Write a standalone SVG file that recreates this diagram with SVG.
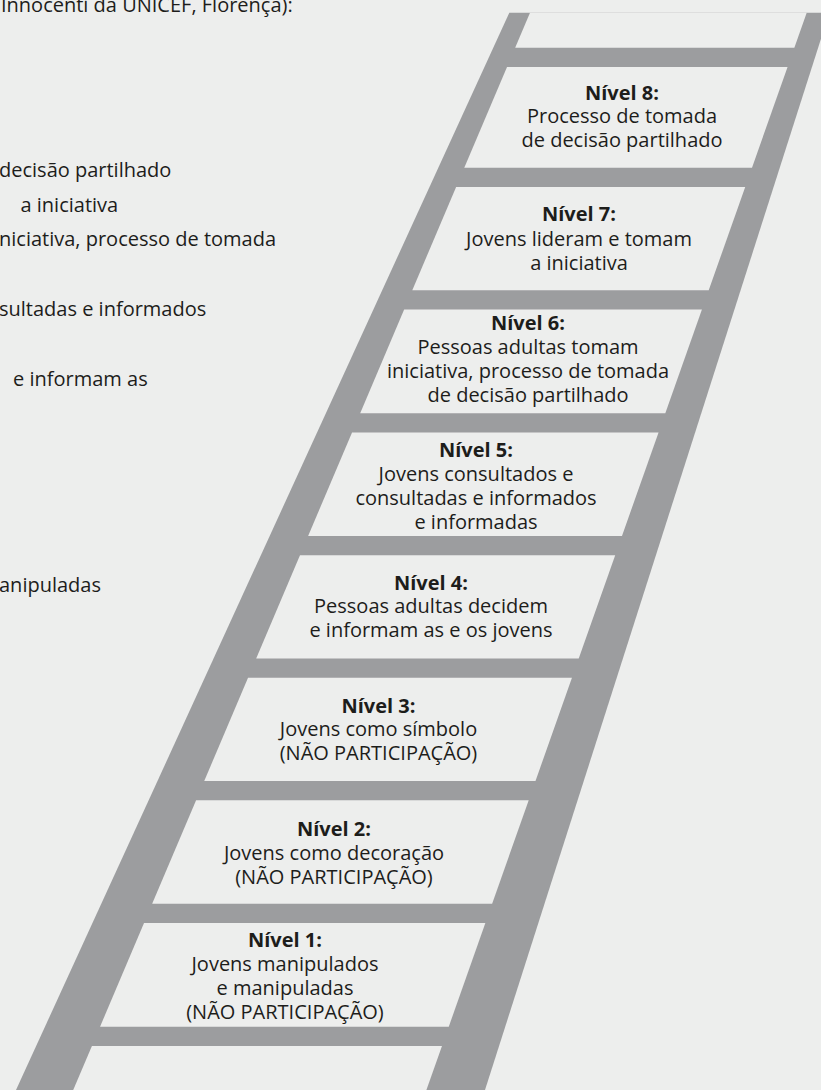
<svg xmlns="http://www.w3.org/2000/svg" width="821" height="1090" viewBox="0 0 821 1090">
<style>
.bg{fill:#edeeed}
.rail{fill:#9c9d9f}
.cell{fill:#edeeed}
text{font-family:"Open Sans","Noto Sans","DejaVu Sans",sans-serif;font-size:20px;fill:#1d1d1b}
.c text{text-anchor:middle}
.b{font-weight:bold}
</style>
<rect class="bg" x="0" y="0" width="821" height="1090"/>
<g id="side-text">
<text x="1" y="12">Innocenti da UNICEF, Florença):</text>
<text x="-1" y="176.7">decisão partilhado</text>
<text x="20.5" y="211.5">a iniciativa</text>
<text x="-1" y="246.3">niciativa, processo de tomada</text>
<text x="-1" y="316">sultadas e informados</text>
<text x="13" y="385.5">e informam as</text>
<text x="-1" y="592.3">anipuladas</text>
</g>
<g id="ladder">
<polygon class="rail" points="509.3,12.7 829.3,12.7 485,1090 16,1090"/>
<polygon class="cell" points="530,12.7 806.7,12.7 794.35,47.7 515.16,47.7"/>
<polygon class="cell" points="91.92,1045.9 441.98,1045.9 426.41,1090 73.23,1090"/>
</g>
<g id="nivel8" class="c">
<polygon class="cell" points="507.02,66.9 787.57,66.9 751.99,167.7 464.28,167.7"/>
<text x="622" y="99.5" class="b">Nível 8:</text>
<text x="622" y="123">Processo de tomada</text>
<text x="622" y="147">de decisão partilhado</text>
</g>
<g id="nivel7" class="c">
<polygon class="cell" points="456.14,186.9 745.21,186.9 708.71,290.3 412.30,290.3"/>
<text x="579" y="221" class="b">Nível 7:</text>
<text x="579" y="245.5">Jovens lideram e tomam</text>
<text x="579" y="269.5">a iniciativa</text>
</g>
<g id="nivel6" class="c">
<polygon class="cell" points="404.16,309.5 701.93,309.5 665.32,413.2 360.19,413.2"/>
<text x="528" y="329.5" class="b">Nível 6:</text>
<text x="528" y="353.5">Pessoas adultas tomam</text>
<text x="528" y="377.5">iniciativa, processo de tomada</text>
<text x="528" y="401.5">de decisão partilhado</text>
</g>
<g id="nivel5" class="c">
<polygon class="cell" points="352.05,432.4 658.55,432.4 621.97,536 308.12,536"/>
<text x="476" y="456.5" class="b">Nível 5:</text>
<text x="476" y="480.5">Jovens consultados e</text>
<text x="476" y="504.5">consultadas e informados</text>
<text x="476" y="528.5">e informadas</text>
</g>
<g id="nivel4" class="c">
<polygon class="cell" points="299.98,555.2 615.20,555.2 578.73,658.5 256.18,658.5"/>
<text x="431" y="589.5" class="b">Nível 4:</text>
<text x="431" y="613">Pessoas adultas decidem</text>
<text x="431" y="637">e informam as e os jovens</text>
</g>
<g id="nivel3" class="c">
<polygon class="cell" points="248.04,677.7 571.96,677.7 535.49,781 204.24,781"/>
<text x="378.5" y="712.5" class="b">Nível 3:</text>
<text x="378.5" y="736">Jovens como símbolo</text>
<text x="378.5" y="760">(NÃO PARTICIPAÇÃO)</text>
</g>
<g id="nivel2" class="c">
<polygon class="cell" points="196.10,800.2 528.71,800.2 492.13,903.8 152.17,903.8"/>
<text x="334" y="836" class="b">Nível 2:</text>
<text x="334" y="860">Jovens como decoração</text>
<text x="334" y="884">(NÃO PARTICIPAÇÃO)</text>
</g>
<g id="nivel1" class="c">
<polygon class="cell" points="144.03,923 485.36,923 448.76,1026.7 100.06,1026.7"/>
<text x="285" y="946.5" class="b">Nível 1:</text>
<text x="285" y="970.5">Jovens manipulados</text>
<text x="285" y="994.5">e manipuladas</text>
<text x="285" y="1018.5">(NÃO PARTICIPAÇÃO)</text>
</g>
<g id="connectors"/>
</svg>
